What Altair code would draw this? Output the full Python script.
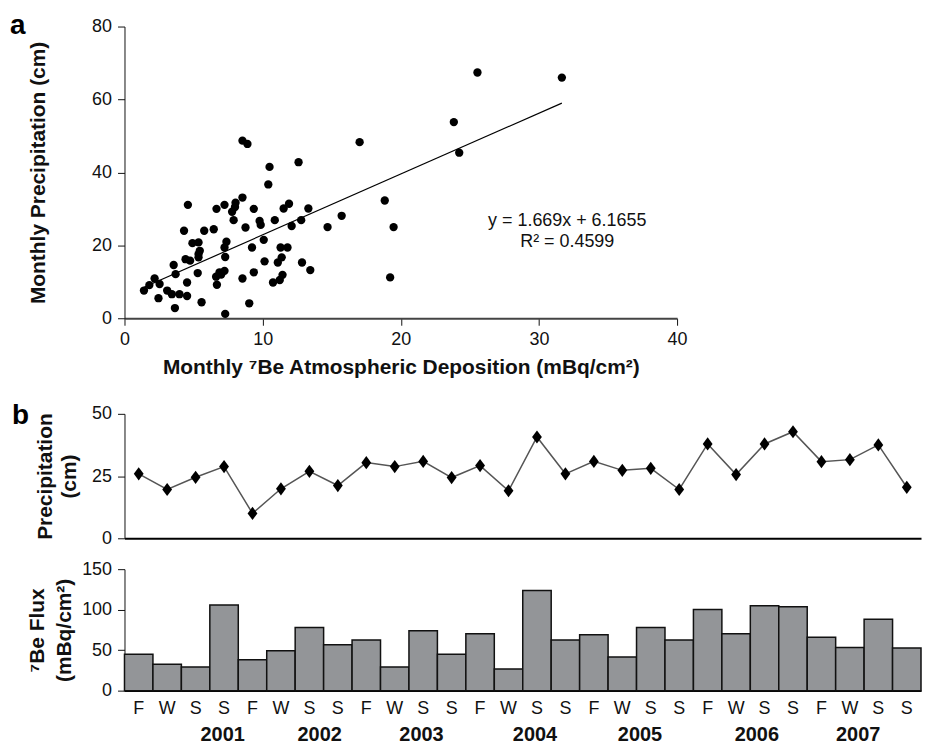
import altair as alt
import pandas as pd

FONT = "Liberation Sans"

# ---------------- Panel a: monthly 7Be deposition vs precipitation ----------------
be_dep = [1.41, 1.80, 2.18, 2.54, 2.46, 3.09, 3.43, 3.98, 3.56, 3.70,
          3.65, 4.53, 4.53, 4.31, 4.59, 4.42, 4.75, 4.92, 5.36, 5.36,
          5.36, 5.30, 5.58, 5.77, 6.46, 6.66, 7.24, 6.63, 6.69, 6.88,
          7.24, 7.29, 7.24, 7.38, 7.29, 7.79, 7.90, 8.04, 8.54, 8.54,
          8.90, 8.76, 8.54, 9.03, 9.23, 9.36, 9.36, 9.78, 9.86, 10.08,
          10.14, 10.41, 10.50, 10.75, 10.88, 11.10, 11.30, 11.38, 11.44, 11.24,
          11.52, 11.80, 11.91, 12.10, 12.60, 12.79, 12.85, 13.31, 13.45, 14.70,
          15.72, 17.02, 18.84, 19.23, 19.48, 23.84, 24.23, 25.55, 31.66, 8.00,
          5.45, 7.00]
precip_m = [7.6, 9.1, 10.9, 9.4, 5.5, 7.6, 6.6, 6.6, 14.6, 12.1,
            2.8, 6.1, 9.8, 24.0, 31.1, 16.2, 15.8, 20.6, 20.8, 17.6,
            16.7, 12.4, 4.4, 24.0, 24.4, 30.0, 31.1, 11.4, 9.2, 12.6,
            13.0, 16.8, 19.4, 21.0, 1.2, 29.2, 26.9, 31.7, 33.1, 48.7,
            47.8, 24.9, 10.9, 4.1, 19.4, 30.0, 12.6, 26.7, 25.6, 21.5,
            15.6, 36.7, 41.5, 9.8, 26.9, 15.3, 19.4, 16.7, 11.9, 10.5,
            30.1, 19.4, 31.4, 25.3, 42.8, 26.9, 15.3, 30.1, 13.2, 25.0,
            28.1, 48.3, 32.3, 11.2, 25.0, 53.8, 45.4, 67.4, 66.0, 30.5,
            18.5, 12.0]
slope = 1.669
intercept = 6.1655
r_squared = 0.4599
eq_x = [32.05, 32.05]
eq_y = [26.7, 20.8]

# ---------------- Panel b: seasonal series ----------------
seasons = ["F", "W", "S", "S"] * 7
years = ["2001", "2002", "2003", "2004", "2005", "2006", "2007"]
year_pos = [3.45, 6.86, 10.44, 14.43, 18.12, 22.23, 25.79]
precip_season = [25.9, 19.6, 24.5, 28.8, 10.0, 19.9, 26.9, 21.2, 30.4, 28.8,
                 30.9, 24.4, 29.2, 19.1, 40.7, 25.9, 30.9, 27.3, 28.1, 19.6,
                 37.9, 25.6, 37.9, 42.8, 30.8, 31.6, 37.5, 20.5]
be_flux = [44.8, 32.5, 29.2, 105.6, 38.2, 49.3, 78.1, 56.7, 62.5, 29.2,
           74.0, 44.8, 70.3, 26.7, 123.7, 62.5, 69.0, 41.5, 78.1, 62.5,
           100.3, 70.3, 104.8, 103.6, 65.8, 53.4, 88.0, 52.6]

# ---------------- Panel a chart ----------------
A_W, A_H = 555, 293
sc = pd.DataFrame({"x": be_dep, "y": precip_m})
xs_a = alt.Scale(domain=[0, 40], nice=False, zero=True)
ys_a = alt.Scale(domain=[0, 80], nice=False, zero=True)

pts = alt.Chart(sc).mark_circle(size=70, color="black", opacity=1).encode(
    x=alt.X("x:Q", scale=xs_a,
            axis=alt.Axis(values=[0, 10, 20, 30, 40], labelFlush=False,
                          title="Monthly \u2077Be Atmospheric Deposition (mBq/cm\u00b2)",
                          labelPadding=5, titlePadding=8,
                          domainColor="#444", domainWidth=2)),
    y=alt.Y("y:Q", scale=ys_a,
            axis=alt.Axis(values=[0, 20, 40, 60, 80], title="Monthly Precipitation (cm)",
                          titlePadding=43)),
)

xmin, xmax = min(be_dep), max(be_dep)
fit = pd.DataFrame({"x": [xmin, xmax], "y": [slope * xmin + intercept, slope * xmax + intercept]})
fit_line = alt.Chart(fit).mark_line(color="black", strokeWidth=1.2).encode(
    x=alt.X("x:Q"), y=alt.Y("y:Q"))

eq = pd.DataFrame({"x": eq_x, "y": eq_y,
                   "t": [f"y = {slope}x + {intercept}", f"R\u00b2 = {r_squared}"]})
eq_text = alt.Chart(eq).mark_text(font=FONT, fontSize=18, color="#111", align="center",
                                  baseline="middle").encode(
    x=alt.X("x:Q"), y=alt.Y("y:Q"), text="t:N")

lab_a = alt.Chart(pd.DataFrame({"t": ["a"]})).mark_text(
    font=FONT, fontSize=28, fontWeight="bold", align="left", baseline="alphabetic", color="black"
).encode(x=alt.value(-115), y=alt.value(7), text="t:N")

spacer = alt.Chart(pd.DataFrame({"t": [0]})).mark_rule(strokeOpacity=0, opacity=0).encode(
    x=alt.value(0), x2=alt.value(1), y=alt.value(A_H + 74))

panel_a = alt.layer(pts, fit_line, eq_text, lab_a, spacer).properties(width=A_W, height=A_H)

# ---------------- Panel b charts ----------------
B_W = 800
L_H = 125
ts = pd.DataFrame({"i": list(range(len(seasons))), "p": precip_season, "b": be_flux, "s": seasons})
ts["xc"] = ts["i"] + 0.5
ts["x0"] = ts["i"]
ts["x1"] = ts["i"] + 1
ts["zero"] = 0
xs_b = alt.Scale(domain=[0, len(seasons)], nice=False, zero=False)

diamond = "M0,-1.05L0.78,0L0,1.05L-0.78,0Z"
x_line_axis = alt.Axis(labels=False, ticks=False, title=None, domainWidth=2, domainColor="black")
y_line = alt.Y("p:Q", scale=alt.Scale(domain=[0, 50], nice=False),
               axis=alt.Axis(values=[0, 25, 50], title=["Precipitation", "(cm)"],
                             titlePadding=12, titleLineHeight=24))
line_b = alt.Chart(ts).mark_line(color="#555", strokeWidth=1.5).encode(
    x=alt.X("xc:Q", scale=xs_b, axis=x_line_axis), y=y_line)
pts_b = alt.Chart(ts).mark_point(shape=diamond, filled=True, fill="black", color="black",
                                 size=160, opacity=1).encode(
    x=alt.X("xc:Q"), y=alt.Y("p:Q"))
lab_b = alt.Chart(pd.DataFrame({"t": ["b"]})).mark_text(
    font=FONT, fontSize=28, fontWeight="bold", align="left", baseline="alphabetic", color="black"
).encode(x=alt.value(-113), y=alt.value(10), text="t:N")
spacer_b = alt.Chart(pd.DataFrame({"t": [0]})).mark_rule(strokeOpacity=0, opacity=0).encode(
    x=alt.value(0), x2=alt.value(1), y=alt.value(L_H + 12))
panel_b1 = alt.layer(line_b, pts_b, lab_b, spacer_b).properties(width=B_W, height=L_H)

BAR_H = 122
bars = alt.Chart(ts).mark_rect(fill="#939598", stroke="#111", strokeWidth=1.5).encode(
    x=alt.X("x0:Q", scale=xs_b,
            axis=alt.Axis(labels=False, ticks=False, title=None, domainWidth=2,
                          domainColor="black")),
    x2="x1:Q",
    y=alt.Y("b:Q", scale=alt.Scale(domain=[0, 150], nice=False),
            axis=alt.Axis(values=[0, 50, 100, 150], title=["\u2077Be Flux", "(mBq/cm\u00b2)"],
                          titlePadding=7, titleLineHeight=27)),
    y2="zero:Q",
)
season_txt = alt.Chart(ts).mark_text(
    font=FONT, fontSize=18, baseline="middle", align="center", color="#111"
).encode(x=alt.X("xc:Q"), y=alt.value(BAR_H + 18), text="s:N")
yr = alt.Chart(pd.DataFrame({"x": year_pos, "t": years})).mark_text(
    font=FONT, fontSize=20, fontWeight="bold", baseline="middle", align="center", color="#111"
).encode(x=alt.X("x:Q"), y=alt.value(BAR_H + 45), text="t:N")
panel_b2 = alt.layer(bars, season_txt, yr).properties(width=B_W, height=BAR_H)

chart = alt.vconcat(panel_a, panel_b1, panel_b2, spacing=10).properties(
    padding={"left": 2, "top": 2, "right": 0, "bottom": 0}
).configure_view(stroke=None).configure_axis(
    grid=False, labelFont=FONT, titleFont=FONT, labelFontSize=18, titleFontSize=21,
    titleFontWeight="bold", labelColor="#111", titleColor="#111", domainColor="#111",
    tickColor="#111", tickSize=7, labelPadding=6, labelOverlap=False
)

chart.save("out.html", embed_options={"renderer": "svg", "actions": False})
